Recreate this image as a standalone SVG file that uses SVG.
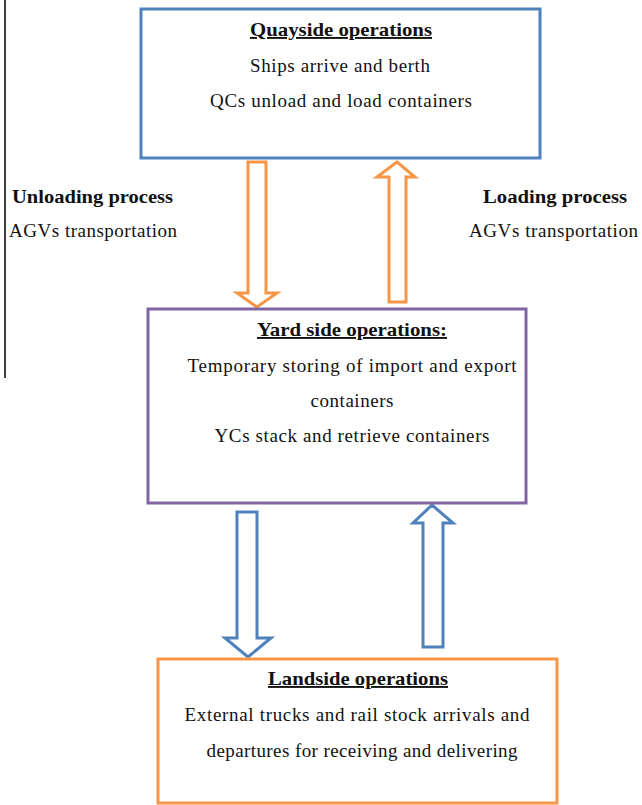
<svg xmlns="http://www.w3.org/2000/svg" width="642" height="805" viewBox="0 0 642 805" font-family="'Liberation Serif', 'DejaVu Serif', serif">
<style>
text{font-family:'Liberation Serif','DejaVu Serif',serif;font-size:19px;fill:#111}
.t{font-weight:bold;text-decoration:underline}
.b{font-weight:bold}
.box{fill:#fff;stroke-width:3}
.oa{fill:#fff;stroke:#F79646;stroke-width:3;stroke-linejoin:miter}
.ba{fill:#fff;stroke:#4F81BD;stroke-width:3;stroke-linejoin:miter}
</style>
<rect width="642" height="805" fill="#fff"/>
<line x1="5" y1="0" x2="5" y2="378" stroke="#000" stroke-width="1.5"/>
<g id="connectors">
<polygon class="oa" points="248,162 266,162 266,293 277,293 257,307 237,293 248,293"/>
<polygon class="oa" points="389,302 406,302 406,177 415,177 397,162 377,177 389,177"/>
<polygon class="ba" points="237,512 257,512 257,638 271,638 248,657 225,638 237,638"/>
<polygon class="ba" points="423,647 443,647 443,523 453,523 432,505 413,523 423,523"/>
</g>
<g id="quayside">
<rect class="box" x="141" y="9" width="399" height="149" stroke="#4F81BD"/>
<text class="t" x="341" y="36" text-anchor="middle" textLength="182" lengthAdjust="spacingAndGlyphs">Quayside operations</text>
<text x="340" y="72" text-anchor="middle" textLength="180" lengthAdjust="spacing">Ships arrive and berth</text>
<text x="341" y="107" text-anchor="middle" textLength="262" lengthAdjust="spacing">QCs unload and load containers</text>
</g>
<g id="unloading-label">
<text class="b" x="12" y="203" textLength="161" lengthAdjust="spacingAndGlyphs">Unloading process</text>
<text x="9" y="237" textLength="168" lengthAdjust="spacing">AGVs transportation</text>
</g>
<g id="loading-label">
<text class="b" x="483" y="203" textLength="144" lengthAdjust="spacingAndGlyphs">Loading process</text>
<text x="469" y="237" textLength="169" lengthAdjust="spacing">AGVs transportation</text>
</g>
<g id="yardside">
<rect class="box" x="148" y="309" width="378" height="194" stroke="#8064A2"/>
<text class="t" x="352" y="336" text-anchor="middle" textLength="190" lengthAdjust="spacingAndGlyphs">Yard side operations:</text>
<text x="352" y="372" text-anchor="middle" textLength="329" lengthAdjust="spacing">Temporary storing of import and export</text>
<text x="352" y="407" text-anchor="middle" textLength="83" lengthAdjust="spacing">containers</text>
<text x="352" y="442" text-anchor="middle" textLength="275" lengthAdjust="spacing">YCs stack and retrieve containers</text>
</g>
<g id="landside">
<rect class="box" x="158" y="659" width="399" height="144" stroke="#F79646"/>
<text class="t" x="358" y="685" text-anchor="middle" textLength="180" lengthAdjust="spacingAndGlyphs">Landside operations</text>
<text x="357" y="721" text-anchor="middle" textLength="345" lengthAdjust="spacing">External trucks and rail stock arrivals and</text>
<text x="362" y="757" text-anchor="middle" textLength="311" lengthAdjust="spacing">departures for receiving and delivering</text>
</g>
</svg>
